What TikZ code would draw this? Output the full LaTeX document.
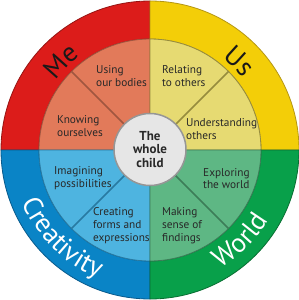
\documentclass[tikz,border=0pt]{standalone}
\usepackage{fontspec}
\setmainfont{PT Sans}
\usetikzlibrary{decorations.text}
\definecolor{meRing}{RGB}{220,28,26}
\definecolor{meRingD}{RGB}{150,20,18}
\definecolor{meIn}{RGB}{226,122,90}
\definecolor{meInD}{RGB}{160,86,64}
\definecolor{usRing}{RGB}{243,206,8}
\definecolor{usRingD}{RGB}{180,150,20}
\definecolor{usIn}{RGB}{230,218,114}
\definecolor{usInD}{RGB}{150,140,62}
\definecolor{crRing}{RGB}{10,132,198}
\definecolor{crRingD}{RGB}{8,90,140}
\definecolor{crIn}{RGB}{78,180,224}
\definecolor{crInD}{RGB}{40,122,162}
\definecolor{woRing}{RGB}{8,160,74}
\definecolor{woRingD}{RGB}{8,110,50}
\definecolor{woIn}{RGB}{94,183,132}
\definecolor{woInD}{RGB}{60,125,88}
\definecolor{txt}{RGB}{40,40,40}
\definecolor{cfill}{RGB}{230,230,230}
\definecolor{cdraw}{RGB}{150,150,150}
\begin{document}
\begin{tikzpicture}[x=1pt,y=1pt,
  ringlabel/.style={decorate, decoration={text along path, text align=center}},
  lbl/.style={anchor=west, inner sep=0pt, align=left, font=\fontsize{11.3}{12.8}\selectfont, text=txt},
  divider/.style={line width=1.6pt}
]
\useasboundingbox (-150,-150) rectangle (149,150);
\def\Ro{149}\def\Ri{111}\def\Rc{36}
% quadrants: start angle, ring color, ring dark, inner color, inner dark
\foreach \a/\rc/\rd/\ic/\id in {90/meRing/meRingD/meIn/meInD, 0/usRing/usRingD/usIn/usInD, 180/crRing/crRingD/crIn/crInD, 270/woRing/woRingD/woIn/woInD}{
  \pgfmathsetmacro{\b}{\a+90}
  \filldraw[fill=\rc, draw=\rd, line width=0.8pt] (\a:\Ro) arc[start angle=\a, end angle=\b, radius=\Ro] -- (\b:\Ri) arc[start angle=\b, end angle=\a, radius=\Ri] -- cycle;
  \filldraw[fill=\ic, draw=\id, line width=0.8pt] (0,0) -- (\a:\Ri) arc[start angle=\a, end angle=\b, radius=\Ri] -- cycle;
  \pgfmathsetmacro{\m}{\a+45}
  \draw[divider, draw=\id] (\m:\Rc) -- (\m:\Ri);
}
% centre
\node[circle, minimum size=72pt, inner sep=0pt, fill=cfill, draw=cdraw, line width=1.5pt, align=center, font=\fontsize{13}{13.5}\selectfont\bfseries, text=txt] (centre) at (0,0.5) {The\\whole\\child};
% ring labels
\path[ringlabel, decoration={text={|\fontsize{27}{27}\selectfont|Me}, text color=black!90}] (165:117) arc[start angle=165, end angle=105, radius=117];
\path[ringlabel, decoration={text={|\fontsize{27}{27}\selectfont|Us}, text color=black!90}] (75:117) arc[start angle=75, end angle=15, radius=117];
\path[ringlabel, decoration={text={|\fontsize{27}{27}\selectfont|Creativity}, text color=white}] (182:138) arc[start angle=182, end angle=268, radius=138];
\path[ringlabel, decoration={text={|\fontsize{27}{27}\selectfont|World}, text color=white}] (272:138) arc[start angle=272, end angle=358, radius=138];
% inner labels
\node[lbl] (bodies) at (-54,74) {Using\\our bodies};
\node[lbl] (knowing) at (-93,24) {Knowing\\ourselves};
\node[lbl] (relating) at (12,74) {Relating\\to others};
\node[lbl] (understanding) at (36,21) {Understanding\\others};
\node[lbl] (imagining) at (-96,-28.5) {Imagining\\possibilities};
\node[lbl] (creating) at (-57,-75.5) {Creating\\forms and\\expressions};
\node[lbl] (exploring) at (53,-28.5) {Exploring\\the world};
\node[lbl] (making) at (12,-75.5) {Making\\sense of\\findings};
\end{tikzpicture}
\end{document}
